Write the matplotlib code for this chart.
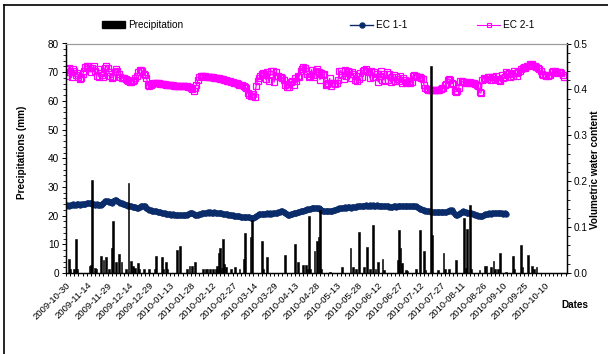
import matplotlib
matplotlib.use("Agg")
import matplotlib.pyplot as plt
import matplotlib.dates as mdates
from matplotlib.lines import Line2D
from matplotlib.patches import Patch
import pandas as pd

plt.rcParams['font.family'] = ['Liberation Sans', 'DejaVu Sans']

start = pd.Timestamp("2009-10-30")

# rain days (days after start) and daily precipitation in mm
precip_day = [2, 3, 6, 7, 8, 17, 18, 19, 21, 22, 25, 27, 29, 31, 33, 34, 36, 38, 40, 43,
              45, 47, 48, 50, 52, 53, 56, 60, 64, 65, 69, 70, 72, 73, 80, 82, 87, 89, 91, 93,
              99, 101, 102, 104, 106, 108, 109, 110, 111, 112, 113, 114, 115, 119, 122, 125,
              128, 129, 133, 134, 141, 142, 145, 158, 165, 167, 171, 173, 174, 175, 176, 179,
              181, 182, 183, 184, 190, 199, 205, 207, 209, 211, 215, 217, 219, 221, 223, 225,
              228, 229, 239, 240, 241, 242, 245, 246, 252, 255, 258, 259, 263, 264, 268, 272,
              273, 276, 281, 287, 288, 289, 291, 292, 298, 302, 303, 306, 308, 309, 311, 313,
              317, 322, 323, 328, 329, 333, 336, 337, 339]
precip_mm = [5.0, 1.3, 1.3, 12.0, 1.3, 2.5, 2.7, 32.5, 1.8, 1.4, 5.9, 4.5, 5.6, 1.5, 8.8, 18.0,
             3.7, 6.7, 3.7, 1.5, 31.2, 4.2, 2.4, 1.7, 3.5, 1.5, 1.4, 1.3, 1.4, 5.8, 5.5, 1.5,
             4.0, 1.5, 8.0, 9.5, 1.4, 2.3, 2.3, 3.8, 1.3, 1.3, 1.3, 1.3, 1.3, 1.3, 2.4, 7.0,
             8.8, 1.6, 12.0, 3.3, 2.0, 1.3, 2.2, 1.3, 5.0, 13.8, 12.7, 18.6, 11.3, 1.3, 5.5,
             6.4, 10.0, 4.0, 2.8, 2.8, 1.4, 20.0, 1.4, 7.5, 11.3, 12.5, 22.0, 1.5, 0.3, 2.2,
             8.6, 2.0, 1.5, 14.3, 2.0, 9.2, 1.5, 16.7, 1.5, 3.8, 5.0, 1.2, 4.6, 14.9, 8.7, 3.5,
             1.2, 0.8, 1.5, 15.1, 7.6, 1.0, 72.0, 13.4, 1.2, 7.0, 1.5, 1.5, 4.4, 19.3, 1.8,
             15.5, 23.7, 1.5, 1.0, 2.5, 2.5, 2.0, 4.2, 1.5, 1.5, 7.0, 0.5, 6.0, 1.5, 9.8, 2.0,
             6.3, 2.5, 1.5, 2.0]

# daily volumetric water content, sensor EC 1-1
ec11 = [0.147, 0.148, 0.146, 0.149, 0.148, 0.150, 0.149, 0.148, 0.150, 0.150,
        0.149, 0.150, 0.151, 0.150, 0.151, 0.152, 0.152, 0.153, 0.152, 0.151,
        0.150, 0.149, 0.150, 0.148, 0.149, 0.148, 0.150, 0.153, 0.156, 0.157,
        0.156, 0.155, 0.154, 0.153, 0.156, 0.158, 0.159, 0.157, 0.155, 0.153,
        0.152, 0.151, 0.150, 0.149, 0.148, 0.147, 0.146, 0.145, 0.144, 0.143,
        0.143, 0.142, 0.142, 0.144, 0.146, 0.147, 0.147, 0.145, 0.142, 0.139,
        0.138, 0.137, 0.136, 0.136, 0.135, 0.134, 0.133, 0.133, 0.132, 0.131,
        0.130, 0.130, 0.129, 0.129, 0.128, 0.128, 0.127, 0.128, 0.127, 0.127,
        0.127, 0.126, 0.127, 0.126, 0.126, 0.127, 0.126, 0.126, 0.128, 0.130,
        0.131, 0.130, 0.128, 0.127, 0.126, 0.127, 0.128, 0.129, 0.130, 0.130,
        0.131, 0.131, 0.132, 0.131, 0.132, 0.131, 0.131, 0.132, 0.131, 0.131,
        0.131, 0.130, 0.130, 0.129, 0.129, 0.128, 0.128, 0.127, 0.127, 0.126,
        0.126, 0.125, 0.125, 0.124, 0.124, 0.124, 0.123, 0.123, 0.123, 0.122,
        0.122, 0.121, 0.121, 0.120, 0.119, 0.120, 0.122, 0.125, 0.127, 0.128,
        0.128, 0.129, 0.128, 0.129, 0.129, 0.130, 0.129, 0.130, 0.129, 0.130,
        0.130, 0.130, 0.131, 0.132, 0.133, 0.134, 0.134, 0.133, 0.130, 0.128,
        0.127, 0.127, 0.128, 0.129, 0.130, 0.131, 0.131, 0.132, 0.133, 0.134,
        0.135, 0.136, 0.137, 0.138, 0.139, 0.140, 0.140, 0.141, 0.141, 0.142,
        0.142, 0.142, 0.141, 0.139, 0.137, 0.135, 0.134, 0.134, 0.134, 0.135,
        0.135, 0.136, 0.136, 0.137, 0.138, 0.139, 0.140, 0.141, 0.142, 0.142,
        0.142, 0.143, 0.142, 0.143, 0.143, 0.142, 0.143, 0.143, 0.144, 0.144,
        0.145, 0.145, 0.146, 0.146, 0.147, 0.147, 0.148, 0.147, 0.147, 0.148,
        0.147, 0.148, 0.147, 0.147, 0.148, 0.147, 0.147, 0.146, 0.147, 0.146,
        0.146, 0.145, 0.145, 0.144, 0.144, 0.144, 0.145, 0.145, 0.144, 0.145,
        0.145, 0.146, 0.146, 0.145, 0.146, 0.146, 0.145, 0.146, 0.146, 0.146,
        0.146, 0.146, 0.145, 0.144, 0.142, 0.140, 0.139, 0.138, 0.137, 0.136,
        0.135, 0.134, 0.134, 0.133, 0.133, 0.132, 0.132, 0.132, 0.133, 0.132,
        0.132, 0.132, 0.133, 0.132, 0.132, 0.134, 0.136, 0.138, 0.137, 0.133,
        0.129, 0.127, 0.127, 0.129, 0.131, 0.133, 0.134, 0.133, 0.132, 0.131,
        0.131, 0.130, 0.130, 0.129, 0.128, 0.127, 0.126, 0.125, 0.124, 0.124,
        0.125, 0.127, 0.128, 0.129, 0.129, 0.130, 0.129, 0.130, 0.130, 0.130,
        0.130, 0.130, 0.131, 0.130, 0.130, 0.129, 0.130, 0.129]

# daily volumetric water content, sensor EC 2-1
ec21 = [0.444, 0.430, 0.447, 0.438, 0.426, 0.445, 0.440, 0.432, 0.436, 0.428,
        0.422, 0.425, 0.433, 0.440, 0.448, 0.451, 0.452, 0.447, 0.438, 0.446,
        0.450, 0.441, 0.430, 0.445, 0.427, 0.436, 0.431, 0.428, 0.446, 0.451,
        0.446, 0.437, 0.430, 0.425, 0.428, 0.438, 0.444, 0.441, 0.433, 0.428,
        0.425, 0.424, 0.425, 0.422, 0.420, 0.419, 0.417, 0.416, 0.418, 0.421,
        0.425, 0.430, 0.438, 0.442, 0.443, 0.440, 0.433, 0.431, 0.425, 0.409,
        0.407, 0.409, 0.412, 0.414, 0.415, 0.415, 0.414, 0.413, 0.412, 0.412,
        0.411, 0.411, 0.410, 0.410, 0.410, 0.409, 0.409, 0.409, 0.408, 0.408,
        0.408, 0.408, 0.408, 0.408, 0.408, 0.407, 0.407, 0.407, 0.406, 0.406,
        0.404, 0.400, 0.396, 0.404, 0.410, 0.420, 0.428, 0.430, 0.430, 0.429,
        0.429, 0.428, 0.428, 0.428, 0.427, 0.426, 0.426, 0.425, 0.425, 0.424,
        0.424, 0.423, 0.422, 0.422, 0.421, 0.420, 0.419, 0.419, 0.418, 0.417,
        0.416, 0.415, 0.414, 0.413, 0.412, 0.410, 0.410, 0.409, 0.408, 0.405,
        0.403, 0.392, 0.388, 0.385, 0.386, 0.390, 0.384, 0.408, 0.418, 0.425,
        0.430, 0.433, 0.435, 0.431, 0.422, 0.437, 0.418, 0.434, 0.440, 0.439,
        0.416, 0.437, 0.430, 0.430, 0.428, 0.427, 0.424, 0.420, 0.410, 0.406,
        0.412, 0.405, 0.416, 0.419, 0.409, 0.424, 0.418, 0.429, 0.427, 0.441,
        0.445, 0.448, 0.447, 0.440, 0.433, 0.428, 0.430, 0.443, 0.431, 0.426,
        0.441, 0.444, 0.437, 0.421, 0.436, 0.431, 0.434, 0.410, 0.412, 0.413,
        0.424, 0.408, 0.413, 0.415, 0.411, 0.413, 0.421, 0.439, 0.441, 0.432,
        0.422, 0.442, 0.430, 0.440, 0.437, 0.425, 0.438, 0.433, 0.420, 0.429,
        0.418, 0.422, 0.436, 0.427, 0.439, 0.442, 0.444, 0.440, 0.437, 0.425,
        0.440, 0.428, 0.437, 0.428, 0.433, 0.416, 0.429, 0.440, 0.420, 0.433,
        0.419, 0.437, 0.421, 0.433, 0.416, 0.428, 0.431, 0.418, 0.426, 0.422,
        0.418, 0.430, 0.415, 0.425, 0.420, 0.414, 0.417, 0.419, 0.413, 0.416,
        0.430, 0.432, 0.430, 0.428, 0.427, 0.426, 0.425, 0.423, 0.410, 0.403,
        0.400, 0.399, 0.398, 0.398, 0.398, 0.399, 0.398, 0.398, 0.399, 0.398,
        0.400, 0.402, 0.404, 0.409, 0.411, 0.420, 0.423, 0.421, 0.415, 0.412,
        0.396, 0.395, 0.397, 0.404, 0.419, 0.418, 0.416, 0.416, 0.415, 0.416,
        0.415, 0.417, 0.415, 0.414, 0.413, 0.412, 0.410, 0.408, 0.394, 0.392,
        0.420, 0.425, 0.423, 0.422, 0.426, 0.428, 0.421, 0.428, 0.427, 0.423,
        0.430, 0.420, 0.421, 0.418, 0.431, 0.425, 0.428, 0.437, 0.433, 0.436,
        0.428, 0.433, 0.430, 0.439, 0.435, 0.430, 0.437, 0.441, 0.444, 0.446,
        0.448, 0.446, 0.451, 0.450, 0.455, 0.454, 0.455, 0.452, 0.452, 0.448,
        0.446, 0.444, 0.439, 0.433, 0.431, 0.432, 0.430, 0.430, 0.431, 0.432,
        0.437, 0.439, 0.440, 0.438, 0.436, 0.437, 0.438, 0.436, 0.432, 0.428]

tick_labels = ["2009-10-30", "2009-11-14", "2009-11-29", "2009-12-14", "2009-12-29",
               "2010-01-13", "2010-01-28", "2010-02-12", "2010-02-27", "2010-03-14",
               "2010-03-29", "2010-04-13", "2010-04-28", "2010-05-13", "2010-05-28",
               "2010-06-12", "2010-06-27", "2010-07-12", "2010-07-27", "2010-08-11",
               "2010-08-26", "2010-09-10", "2010-09-25", "2010-10-10"]

navy = "#0b2c6b"
pink = "#ff00ff"

rain_dates = start + pd.to_timedelta(precip_day, unit="D")
ec11_dates = pd.date_range(start, periods=len(ec11), freq="D")
ec21_dates = pd.date_range(start, periods=len(ec21), freq="D")
tick_dates = pd.to_datetime(tick_labels)

fig = plt.figure(figsize=(6.08, 3.54), dpi=100)
ax = fig.add_axes([66 / 608, 1 - 273 / 354, 501 / 608, 229.5 / 354])
ax2 = ax.twinx()

# soil moisture on the right axis
ax2.plot(ec11_dates, ec11, color=navy, lw=1, marker="o", ms=4, mec=navy, mfc=navy,
         mew=0.5)
ax2.plot(ec21_dates, ec21, color=pink, lw=0.9, marker="s", ms=3.7, mec=pink, mfc="none",
         mew=0.9)

# rain bars drawn above the moisture curves
ax.bar(rain_dates, precip_mm, width=1.3, color="black", edgecolor="black", linewidth=0.4,
       align="center")
ax.set_zorder(ax2.get_zorder() + 1)
ax.patch.set_visible(False)

x0 = mdates.date2num(start)
ax.set_xlim(x0, x0 + 361)
ax.set_ylim(0, 80)
ax2.set_ylim(0, 0.5)

ax.set_xticks(tick_dates)
ax.set_xticklabels(tick_labels, rotation=45, ha="right", va="top",
                   rotation_mode="anchor", fontsize=6.8)
ax.set_xticks(mdates.date2num(start) + list(range(0, 361, 3)), minor=True)
ax.tick_params(axis="x", which="both", direction="out", length=2.5, width=0.7, pad=3)

ax.set_yticks(range(0, 81, 10))
ax.set_yticks(range(0, 81, 2), minor=True)
ax.tick_params(axis="y", which="major", direction="out", length=3, width=0.7,
               labelsize=7.2, pad=2)
ax.tick_params(axis="y", which="minor", direction="out", length=2, width=0.6)

ax2.set_yticks([0.0, 0.1, 0.2, 0.3, 0.4, 0.5])
ax2.set_yticklabels(["0.0", "0.1", "0.2", "0.3", "0.4", "0.5"])
ax2.set_yticks([i / 50 for i in range(26)], minor=True)
ax2.tick_params(axis="y", which="major", direction="out", length=3, width=0.7,
                labelsize=7.2, pad=2)
ax2.tick_params(axis="y", which="minor", direction="out", length=2, width=0.6)

for a in (ax, ax2):
    a.spines["top"].set_color("#9a9a9a")
    a.spines["top"].set_linewidth(0.8)
    for s in ("left", "right", "bottom"):
        a.spines[s].set_linewidth(0.9)

fig.text(22 / 608, 1 - 152 / 354, "Precipitations (mm)", rotation=90, ha="center",
         va="center", fontsize=7.2, fontweight="bold")
fig.text(595 / 608, 1 - 170 / 354, "Volumetric water content", rotation=90, ha="center",
         va="center", fontsize=7.2, fontweight="bold")
fig.text(561 / 608, 1 - 305 / 354, "Dates", ha="left", va="center", fontsize=7.2,
         fontweight="bold")

# legend entries spread along the top
legend_items = [
    (Patch(facecolor="black", edgecolor="black"), "Precipitation", 102),
    (Line2D([], [], color=navy, lw=1, marker="o", ms=3.6, mfc=navy, mec=navy), "EC 1-1", 350),
    (Line2D([], [], color=pink, lw=0.8, marker="s", ms=3.2, mfc="none", mec=pink, mew=0.8),
     "EC 2-1", 477),
]
for handle, label, xpix in legend_items:
    leg = fig.legend([handle], [label], loc="center left",
                     bbox_to_anchor=(xpix / 608, 1 - 25 / 354), frameon=False,
                     fontsize=7.2, handlelength=2.3, handletextpad=0.3,
                     borderpad=0, borderaxespad=0)

# chart area border
fig.add_artist(Line2D([4 / 608, 4 / 608], [0, 1 - 5 / 354], color="black", lw=1.2,
                      transform=fig.transFigure))
fig.add_artist(Line2D([4 / 608, 1], [1 - 5 / 354, 1 - 5 / 354], color="black", lw=1.2,
                      transform=fig.transFigure))

fig.savefig("out.png", dpi=100)
